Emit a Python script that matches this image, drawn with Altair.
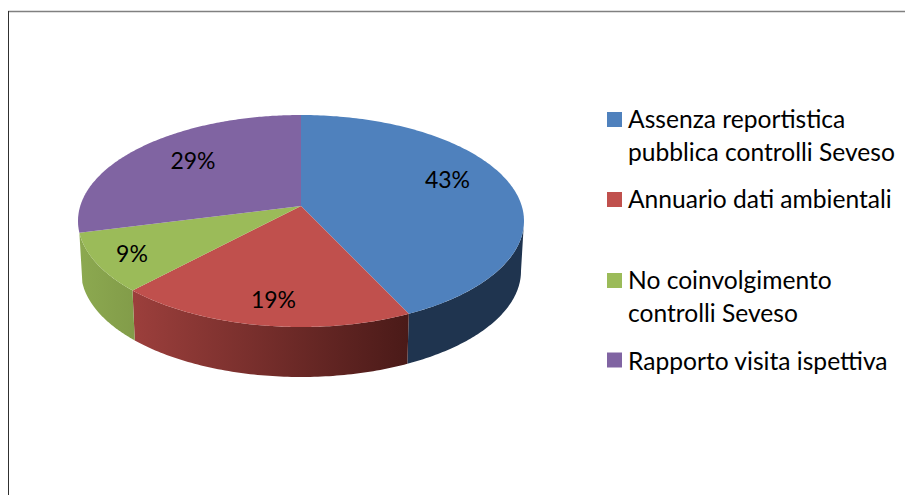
import math
import altair as alt
import pandas as pd

categories = ["Assenza reportistica pubblica controlli Seveso", "Annuario dati ambientali",
              "No coinvolgimento controlli Seveso", "Rapporto visita ispettiva"]
shares = [43, 19, 9, 29]
colors = ["#4F81BD", "#C0504D", "#9BBB59", "#8064A2"]
wall_stops = [("#1F344F", "#1F344F"), ("#9C3F3C", "#4A1A18"), ("#8CA950", "#829C49"), None]
legend_lines = [["Assenza reportistica", "pubblica controlli Seveso"], ["Annuario dati ambientali"],
                ["No coinvolgimento", "controlli Seveso"], ["Rapporto visita ispettiva"]]
legend_line_y = [[120.5, 153.5], [200.5], [281.5, 314.5], [362.5]]
legend_square_y = [119.5, 199.5, 280.5, 360]
label_pos = [(447.5, 181), (273.5, 301), (132, 255), (193, 162)]

CX, CY, RX, RY = 301, 221, 223, 106
DEPTH, RX_LOW = 50, 220
E = 0.1415  # apex offset caused by the pie's perspective

W, H = 897, 487
xe = alt.X("x:Q", scale=alt.Scale(domain=[8, 8 + W], range=[0, W], nice=False, zero=False), axis=None)
ye = alt.Y("y:Q", scale=alt.Scale(domain=[8, 8 + H], range=[0, H], nice=False, zero=False), axis=None)


def project(theta):
    sx, cy = math.sin(theta), math.cos(theta)
    den = 1 + E * cy
    return sx * math.sqrt(1 - E * E) / den, (cy + E) / den


def top(theta):
    u, v = project(theta)
    return CX + RX * u, CY - RY * v


def low(theta):
    u, v = project(theta)
    return CX + RX_LOW * u, CY + DEPTH - RY * v


def steps(a, b, n=80):
    return [a + (b - a) * i / n for i in range(n + 1)]


def polygon(points, fill):
    df = pd.DataFrame({"x": [p[0] for p in points], "y": [p[1] for p in points], "o": range(len(points))})
    return alt.Chart(df).mark_line(fill=fill, strokeWidth=0, interpolate="linear").encode(
        x=xe, y=ye, order="o:Q")


layers = []
angle = 0.0
bounds = []
for s in shares:
    start = angle
    angle += s / sum(shares) * 2 * math.pi
    bounds.append((start, angle))

vis_a = math.acos(-E)
vis_b = 2 * math.pi - vis_a

for (a, b), stops in zip(bounds, wall_stops):
    a2, b2 = max(a, vis_a), min(b, vis_b)
    if stops is None or b2 <= a2:
        continue
    pts = [top(t) for t in steps(a2, b2)] + [low(t) for t in steps(b2, a2)]
    fill = alt.Gradient(gradient="linear", x1=0, x2=1, y1=0, y2=0,
                        stops=[alt.GradientStop(color=stops[0], offset=0),
                               alt.GradientStop(color=stops[1], offset=1)])
    layers.append(polygon(pts, fill))

for (a, b), c in zip(bounds, colors):
    apex = (CX, CY - RY * E)
    layers.append(polygon([apex] + [top(t) for t in steps(a, b, 160)] + [apex], c))

labels = pd.DataFrame({"x": [p[0] for p in label_pos], "y": [p[1] for p in label_pos],
                       "t": [f"{s}%" for s in shares]})
FONT = "Lato"
layers.append(alt.Chart(labels).mark_text(font=FONT, fontSize=23, color="#000000", align="center",
                                          baseline="middle").encode(x=xe, y=ye, text="t:N"))

squares = pd.DataFrame({"x": [614.5] * 4, "y": legend_square_y, "c": colors})
layers.append(alt.Chart(squares).mark_square(size=225, opacity=1, strokeWidth=0).encode(
    x=xe, y=ye, fill=alt.Fill("c:N", scale=None, legend=None)))

rows = [{"x": 628, "y": y, "t": t} for lines, yy in zip(legend_lines, legend_line_y) for t, y in zip(lines, yy)]
layers.append(alt.Chart(pd.DataFrame(rows)).mark_text(font=FONT, fontSize=24.6, color="#000000", align="left",
                                                      baseline="middle").encode(x=xe, y=ye, text="t:N"))

layers.append(alt.Chart(pd.DataFrame({"a": [0]})).mark_rule(color="#808080", strokeWidth=1.5).encode(
    x=alt.value(0), x2=alt.value(W), y=alt.value(3.5)))
layers.append(alt.Chart(pd.DataFrame({"a": [0]})).mark_rule(color="#303030", strokeWidth=1).encode(
    x=alt.value(0.5), y=alt.value(3), y2=alt.value(H)))

chart = alt.layer(*layers).properties(width=W, height=H, padding=0, background="#ffffff",
                                      autosize=alt.AutoSizeParams(type="none")).configure_view(stroke=None)
chart.save("out.html", embed_options={"renderer": "svg", "actions": False})
